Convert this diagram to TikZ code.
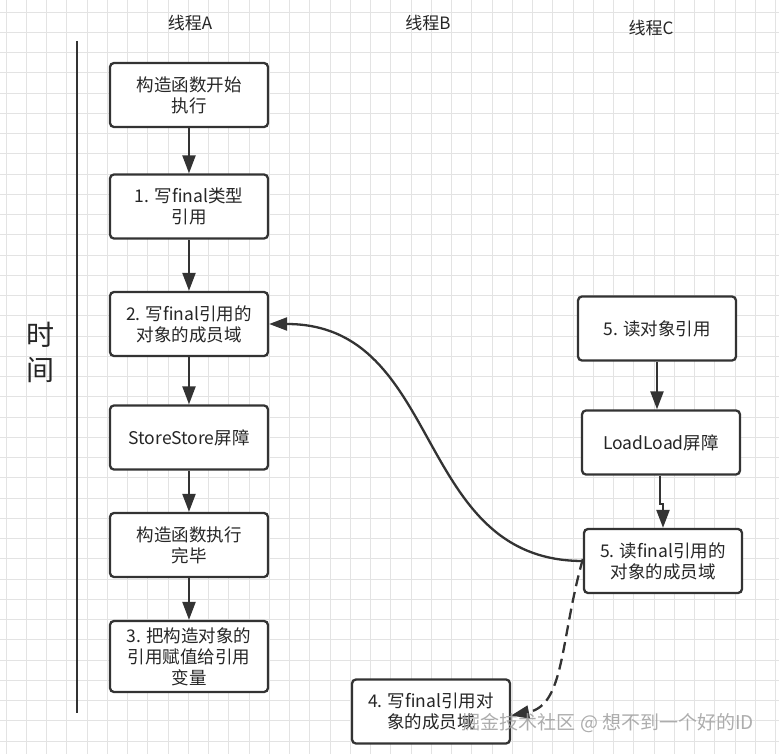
\documentclass[tikz,border=0pt]{standalone}
\usepackage{fontspec}
\setmainfont{Noto Sans CJK SC}
\usetikzlibrary{arrows.meta}
\definecolor{linec}{HTML}{333333}
\definecolor{gridc}{HTML}{E3E3E3}
\begin{document}
\begin{tikzpicture}[x=1pt,y=-1pt,
  box/.style={draw=linec, line width=2.3pt, rounded corners=4pt, fill=white,
    minimum width=158pt, minimum height=64pt, align=center, inner sep=2pt,
    text=black!85, font=\fontsize{17.5}{21}\selectfont},
  arr/.style={draw=linec, line width=2.3pt, -{Triangle[length=18pt,width=13pt]}},
  dasharr/.style={arr, dash pattern=on 11pt off 6pt},
  title/.style={text=black!85, font=\fontsize{17}{20}\selectfont, inner sep=0pt},
  axis/.style={draw=linec, line width=2.6pt}
]
\useasboundingbox (0,0) rectangle (779,754);
\fill[white] (0,0) rectangle (779,754);
% grid
\foreach \i in {0,...,38} \draw[gridc, line width=0.9pt] (6+\i*20.25,0) -- (6+\i*20.25,754);
\foreach \j in {0,...,37} \draw[gridc, line width=0.9pt] (0,12+\j*20.25) -- (779,12+\j*20.25);

% titles
\node[title] (ta) at (190,23) {线程A};
\node[title] (tb) at (428,23) {线程B};
\node[title] (tc) at (651,28) {线程C};
\node[text=black!85, font=\fontsize{28}{35}\selectfont, align=center, inner sep=0pt] (time) at (40,352) {时\\间};

% timeline
\coordinate (t1) at (77,41);
\coordinate (t2) at (77,713);
\draw[axis] (t1) -- (t2);

% column A
\node[box] (a1) at (189,95) {构造函数开始\\执行};
\node[box] (a2) at (189,206.5) {1. 写final类型\\引用};
\node[box] (a3) at (189,324) {2. 写final引用的\\对象的成员域};
\node[box] (a4) at (189,437.5) {StoreStore屏障};
\node[box] (a5) at (189,545) {构造函数执行\\完毕};
\node[box, minimum height=71pt] (a6) at (189,656.5) {3. 把构造对象的\\引用赋值给引用\\变量};

% column C
\node[box] (c1) at (657,328.5) {5. 读对象引用};
\node[box] (c2) at (661,442.5) {LoadLoad屏障};
\node[box] (c3) at (663,561) {5. 读final引用的\\对象的成员域};

% column B
\node[box] (b1) at (431,711.5) {4. 写final引用对\\象的成员域};

% arrows A
\draw[arr] (a1) -- (a2);
\draw[arr] (a2) -- (a3);
\draw[arr] (a3) -- (a4);
\draw[arr] (a4) -- (a5);
\draw[arr] (a5) -- (a6);

% arrows C
\draw[arr] (c1.south) -- (c1.south |- c2.north);
\draw[arr] (c2.south -| 660,0) -- ++(0,28) -| (c3.north);

% curves
\draw[arr] (c3.west) .. controls (412,561) and (445,324) .. (a3.east);
\draw[dasharr] ([yshift=2pt]c3.west) .. controls (560,640) and (565,705) .. ([yshift=-4pt]b1.east);

% watermark
\node[text=gray!75, opacity=0.85, font=\fontsize{19}{22}\selectfont, inner sep=0pt] (wm) at (608,723) {掘金技术社区 @ 想不到一个好的ID};
\end{tikzpicture}
\end{document}
